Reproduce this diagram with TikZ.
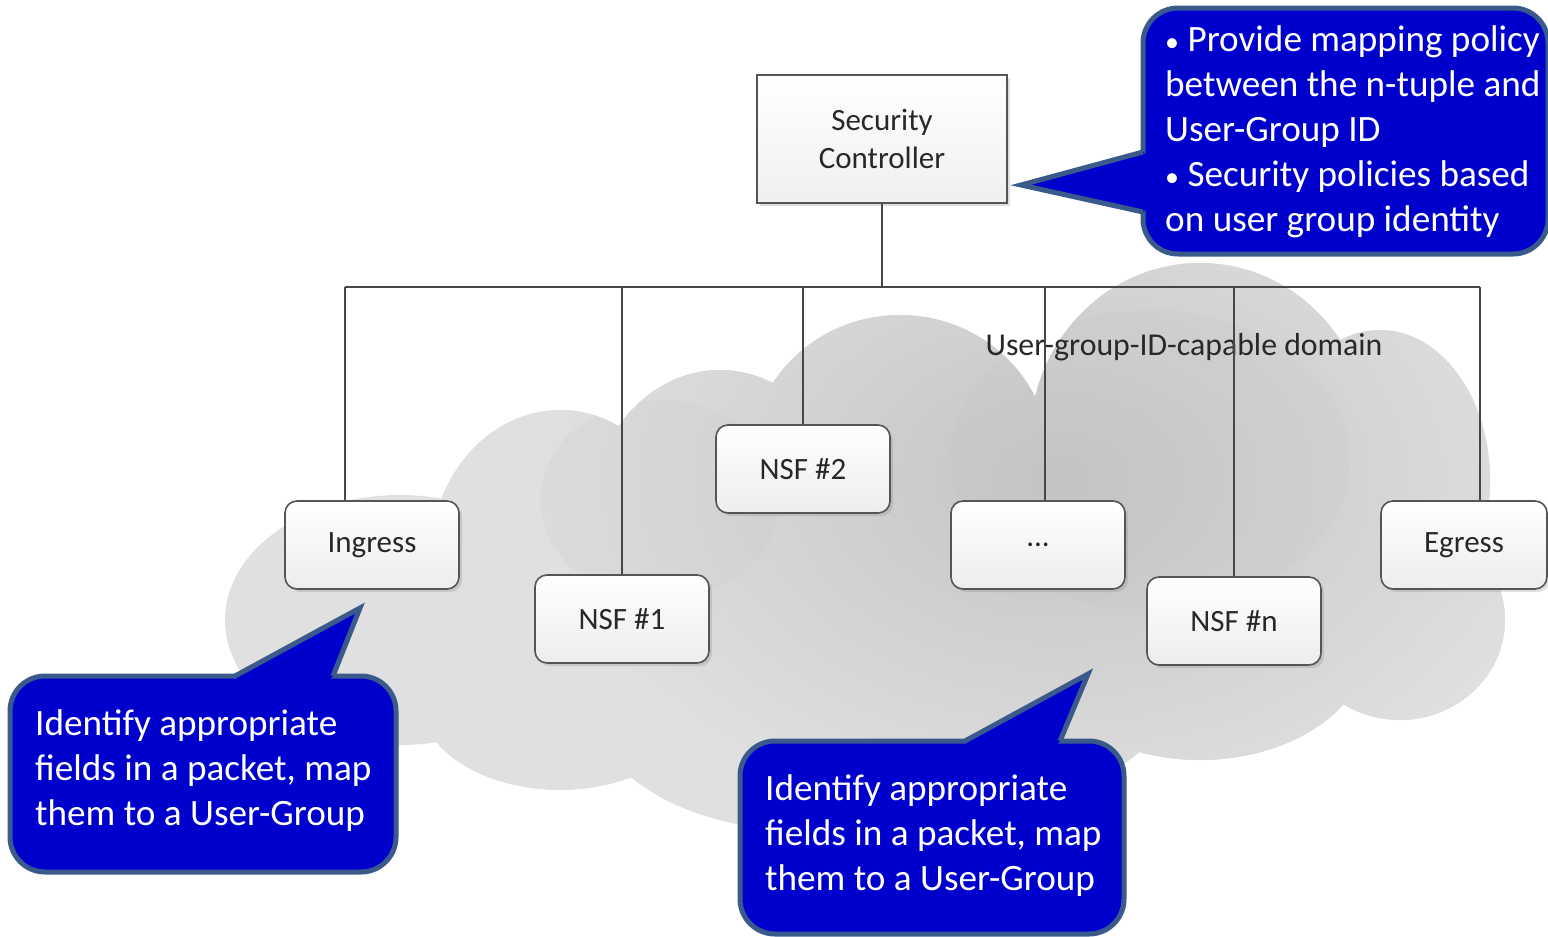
\documentclass[tikz,border=0pt]{standalone}
\usepackage{fontspec}
\setmainfont{Carlito}
\usetikzlibrary{shadows}
\definecolor{calloutfill}{RGB}{0,0,204}
\definecolor{calloutline}{RGB}{58,90,140}
\definecolor{boxline}{RGB}{85,85,85}
\definecolor{wire}{RGB}{70,70,70}
\definecolor{cloudA}{RGB}{224,224,224}
\definecolor{cloudB}{RGB}{196,196,196}
\definecolor{boxtext}{RGB}{40,40,40}
\begin{document}
\begin{tikzpicture}[x=1pt,y=-1pt,
  boxshadow/.style={drop shadow={shadow xshift=3pt,shadow yshift=-3pt,opacity=0.25}},
  nsfbox/.style={draw=boxline, line width=1.6pt, rounded corners=12pt,
    minimum width=174pt, minimum height=88pt, top color=white, bottom color=gray!14,
    boxshadow, font=\fontsize{31}{38}\selectfont, text=boxtext},
  ctrlbox/.style={draw=boxline, line width=1.6pt, minimum width=250pt, minimum height=128pt,
    top color=white, bottom color=gray!12, boxshadow, align=center,
    font=\fontsize{31}{38}\selectfont, text=boxtext},
  wire/.style={draw=wire, line width=1.4pt},
  calloutbody/.style={draw=calloutline, fill=calloutfill, line width=5pt, rounded corners=35pt},
  callouttip/.style={draw=calloutline, line width=5pt, line join=miter},
  callouttext/.style={anchor=north west, inner sep=0pt, align=left, text=white,
    font=\fontsize{37.2}{45}\selectfont},
  domainlabel/.style={font=\fontsize{31.8}{38}\selectfont, text=boxtext}
]
\useasboundingbox (0,0) rectangle (1548,937);

% cloud
\begin{scope}
\clip (400,620) ellipse [x radius=175pt, y radius=125pt]
      (560,560) ellipse [x radius=130pt, y radius=150pt]
      (720,520) ellipse [x radius=130pt, y radius=150pt]
      (900,460) ellipse [x radius=150pt, y radius=145pt]
      (1200,440) ellipse [x radius=170pt, y radius=177pt]
      (1380,480) ellipse [x radius=110pt, y radius=150pt]
      (1400,620) ellipse [x radius=105pt, y radius=100pt]
      (1200,640) ellipse [x radius=170pt, y radius=120pt]
      (800,700) ellipse [x radius=210pt, y radius=130pt]
      (560,700) ellipse [x radius=140pt, y radius=90pt]
      (1000,650) ellipse [x radius=190pt, y radius=150pt];
\fill[cloudA] (0,0) rectangle (1548,937);
\shade[inner color=cloudB, outer color=cloudA] (1060,480) ellipse [x radius=520pt, y radius=360pt];
\fill[cloudB, opacity=0.18] (1150,460) ellipse [x radius=200pt, y radius=150pt];
\fill[cloudB, opacity=0.15] (660,500) ellipse [x radius=120pt, y radius=100pt];
\end{scope}

\node[domainlabel] (domain) at (1184,347) {User-group-ID-capable domain};

% nodes
\node[ctrlbox] (sc) at (882,139) {Security\\Controller};
\node[nsfbox] (ingress) at (372,545) {Ingress};
\node[nsfbox] (nsf1) at (622,619) {NSF \#1};
\node[nsfbox] (nsf2) at (803,469) {NSF \#2};
\node[nsfbox] (dots) at (1038,545) {...};
\node[nsfbox] (nsfn) at (1234,621) {NSF \#n};
\node[nsfbox, minimum width=166pt] (egress) at (1464,545) {Egress};

% connectors
\coordinate (busL) at (345,287);
\coordinate (busR) at (1480,287);
\draw[wire] (busL) -- (busR);
\draw[wire] (sc.south) -- (sc.south |- busL);
\draw[wire] (busL) -- (busL |- ingress.north);
\draw[wire] (nsf1.north) -- (nsf1.north |- busL);
\draw[wire] (nsf2.north) -- (nsf2.north |- busL);
\draw[wire] ([xshift=7pt]dots.north) -- ([xshift=7pt]dots.north |- busL);
\draw[wire] (nsfn.north) -- (nsfn.north |- busL);
\draw[wire] (busR) -- (busR |- egress.north);

% left callout
\draw[calloutbody] (10,676) rectangle (396,872);
\fill[calloutfill] (235,676) -- (360,608) -- (333,676) -- (330,679.5) -- (238,679.5) -- cycle;
\draw[callouttip] (235,676) -- (360,608) -- (333,676);
\node[callouttext] (leftnote) at (35,709) {Identify appropriate\\fields in a packet, map\\them to a User-Group};

% bottom callout
\draw[calloutbody] (740,741) rectangle (1124,934);
\fill[calloutfill] (965,741) -- (1088,674) -- (1060,741) -- (1057,744.5) -- (968,744.5) -- cycle;
\draw[callouttip] (965,741) -- (1088,674) -- (1060,741);
\node[callouttext] (bottomnote) at (765,774) {Identify appropriate\\fields in a packet, map\\them to a User-Group};

% top right callout
\draw[calloutbody] (1143,8) rectangle (1548,254);
\fill[calloutfill] (1143,152) -- (1021,185) -- (1143,212) -- (1146.5,209) -- (1146.5,155) -- cycle;
\draw[callouttip] (1143,152) -- (1021,185) -- (1143,212);
\node[callouttext] (topnote) at (1165,25) {{\fontsize{28}{45}\selectfont•} Provide mapping policy\\between the n-tuple and\\User-Group ID\\{\fontsize{28}{45}\selectfont•} Security policies based\\on user group identity};
\end{tikzpicture}
\end{document}
